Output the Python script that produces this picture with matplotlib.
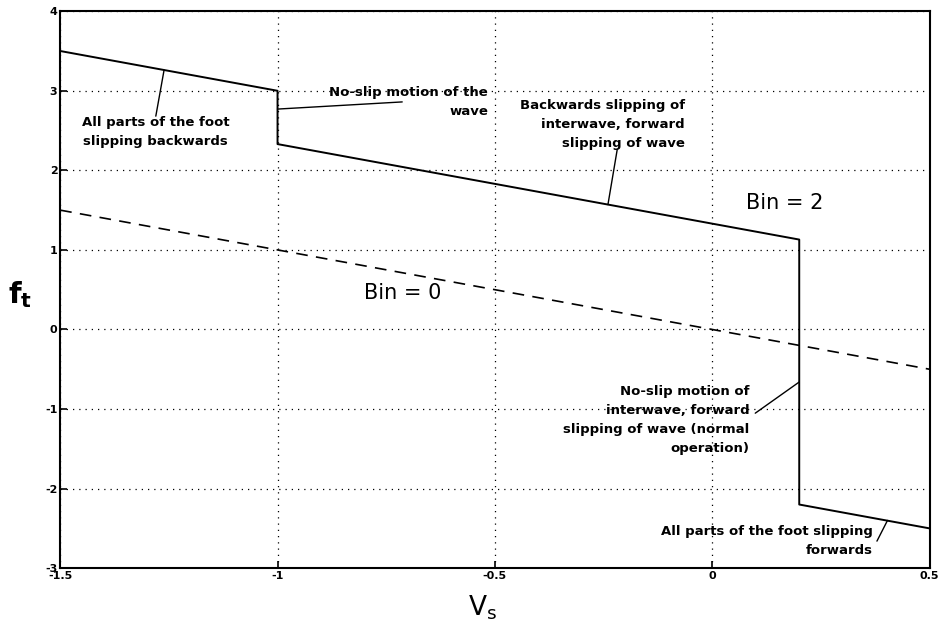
import matplotlib
matplotlib.use("Agg")
import matplotlib.pyplot as plt

plt.rcParams["axes.unicode_minus"] = False

# Bin = 2 (solid) and Bin = 0 (dashed) curves
bin2_vs = [-1.5, -1.0, -1.0, 0.2, 0.2, 0.5]
bin2_ft = [3.5, 3.0, 2.33, 1.13, -2.2, -2.5]
bin0_vs = [-1.5, 0.5]
bin0_ft = [1.5, -0.5]

x_ticks = [-1.5, -1, -0.5, 0, 0.5]
x_tick_labels = ["-1.5", "-1", "-0.5", "0", "0.5"]
y_ticks = [-3, -2, -1, 0, 1, 2, 3, 4]

# (text, text position, arrow point, horizontal alignment, where the pointer leaves the text)
notes = [
    ("All parts of the foot\nslipping backwards", (-1.28, 2.48), (-1.261, 3.26), "center", (0.5, 1.0)),
    ("No-slip motion of the\nwave", (-0.516, 2.86), (-1.0, 2.77), "right", (0.46, 0.5)),
    ("Backwards slipping of\ninterwave, forward\nslipping of wave", (-0.063, 2.58), (-0.24, 1.57), "right", (0.59, 0.0)),
    ("No-slip motion of\ninterwave, forward\nslipping of wave (normal\noperation)", (0.086, -1.14), (0.2, -0.66), "right", (1.03, 0.6)),
    ("All parts of the foot slipping\nforwards", (0.369, -2.66), (0.403, -2.40), "right", (1.02, 0.5)),
]

fig = plt.figure(figsize=(9.4, 6.23), dpi=100)
ax = fig.add_axes([0.064, 0.088, 0.925, 0.894])

ax.plot(bin2_vs, bin2_ft, color="black", linewidth=1.4)
ax.plot(bin0_vs, bin0_ft, color="black", linewidth=1.2, linestyle=(0, (7, 5)))

ax.set_xlim(-1.5, 0.5)
ax.set_ylim(-3, 4)
ax.set_xticks(x_ticks)
ax.set_xticklabels(x_tick_labels)
ax.set_yticks(y_ticks)
ax.grid(True, color="black", linestyle=(0, (1, 4)), linewidth=0.9)
ax.tick_params(direction="in", length=5, width=1.2, labelsize=8, pad=2)
for lbl in ax.get_xticklabels() + ax.get_yticklabels():
    lbl.set_fontweight("bold")
for spine in ax.spines.values():
    spine.set_linewidth(1.5)

for text, xy_text, xy_point, ha, rel in notes:
    ax.annotate(text, xy=xy_point, xytext=xy_text, ha=ha, va="center",
                fontsize=9.5, fontweight="bold", linespacing=1.6,
                arrowprops=dict(arrowstyle="-", color="black", linewidth=1.0,
                                shrinkA=0, shrinkB=0, relpos=rel, patchA=None))

ax.text(0.167, 1.59, "Bin = 2", fontsize=15, ha="center", va="center")
ax.text(-0.711, 0.46, "Bin = 0", fontsize=15, ha="center", va="center")

fig.text(0.021, 0.527, r"$\mathregular{f_t}$", fontsize=21, fontweight="bold",
         ha="center", va="center")
fig.text(0.513, 0.024, r"$\mathregular{V_s}$", fontsize=19, ha="center", va="center")

fig.savefig("out.png", dpi=100)
